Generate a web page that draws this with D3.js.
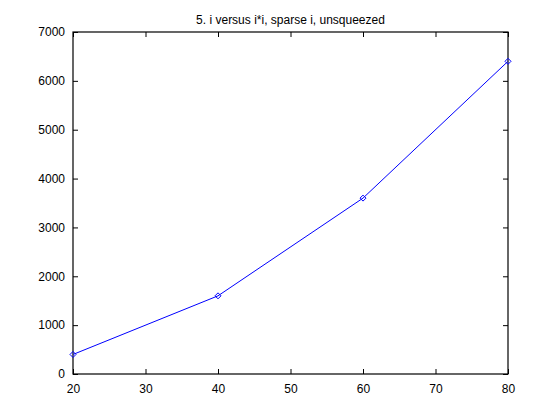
<!DOCTYPE html>
<html>
<head>
<meta charset="utf-8">
<script src="https://cdn.jsdelivr.net/npm/d3@7"></script>
<style>
  body { margin: 0; background: #fff; }
  svg text { font-family: "Liberation Sans", Arial, sans-serif; font-size: 12px; fill: #000; }
</style>
</head>
<body>
<div class="chart"></div>
<script>
// Data
var xValues = [20, 40, 60, 80];
var yValues = [400, 1600, 3600, 6400];
var xTicks = [20, 30, 40, 50, 60, 70, 80];
var yTicks = [0, 1000, 2000, 3000, 4000, 5000, 6000, 7000];
var titleText = "5. i versus i*i, sparse i, unsqueezed";

var svgWidth = 560;
var svgHeight = 420;
var margin = { top: 32, right: 52, bottom: 46, left: 73 };
var width = svgWidth - margin.left - margin.right;
var height = svgHeight - margin.top - margin.bottom;

var svg = d3.select(".chart").append("svg")
  .attr("width", svgWidth)
  .attr("height", svgHeight);

var chartGroup = svg.append("g")
  .attr("transform", `translate(${margin.left}, ${margin.top})`);

var x = d3.scaleLinear().domain([20, 80]).range([0, width]);
var y = d3.scaleLinear().domain([0, 7000]).range([height, 0]);

// Box
chartGroup.append("rect")
  .attr("width", width).attr("height", height)
  .attr("fill", "none").attr("stroke", "#000").attr("stroke-width", 1.2);

// Axes with inward ticks
function styleAxis(g) {
  g.select(".domain").remove();
  g.selectAll(".tick line").attr("stroke", "#000");
  g.selectAll(".tick text").attr("fill", "#000");
}

chartGroup.append("g")
  .attr("transform", `translate(0, ${height})`)
  .call(d3.axisBottom(x).tickValues(xTicks).tickSize(-5).tickPadding(10).tickFormat(d3.format("d")))
  .call(styleAxis)
  .selectAll("text").style("font-size", "12px");

chartGroup.append("g")
  .call(d3.axisTop(x).tickValues(xTicks).tickSize(-5).tickFormat(""))
  .call(styleAxis);

chartGroup.append("g")
  .call(d3.axisLeft(y).tickValues(yTicks).tickSize(-5).tickPadding(8).tickFormat(d3.format("d")))
  .call(styleAxis)
  .selectAll("text").style("font-size", "12px");

chartGroup.append("g")
  .attr("transform", `translate(${width}, 0)`)
  .call(d3.axisRight(y).tickValues(yTicks).tickSize(-5).tickFormat(""))
  .call(styleAxis);

// Line
var points = xValues.map(function(d, i) { return [d, yValues[i]]; });
chartGroup.append("path")
  .datum(points)
  .attr("fill", "none")
  .attr("stroke", "#0000ff")
  .attr("stroke-width", 1)
  .attr("d", d3.line().x(d => x(d[0])).y(d => y(d[1])));

// Diamond markers
chartGroup.selectAll(".marker")
  .data(points)
  .enter()
  .append("path")
  .attr("class", "marker")
  .attr("transform", d => `translate(${x(d[0])}, ${y(d[1])})`)
  .attr("d", "M0,-3L3,0L0,3L-3,0Z")
  .attr("fill", "none")
  .attr("stroke", "#0000ff")
  .attr("stroke-width", 1);

// Title
svg.append("text")
  .attr("x", margin.left + width / 2)
  .attr("y", 24)
  .attr("text-anchor", "middle")
  .style("font-size", "12px")
  .text(titleText);
</script>
</body>
</html>
